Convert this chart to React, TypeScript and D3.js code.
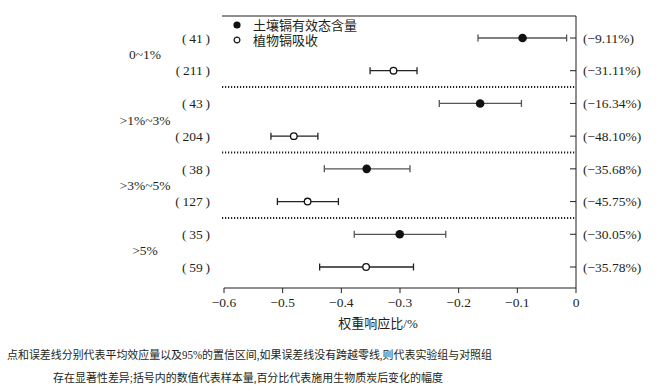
import * as d3 from "d3";

const groups = ["0~1%", ">1%~3%", ">3%~5%", ">5%"];
const counts = ["41", "211", "43", "204", "38", "127", "35", "59"];
const means = [-0.0911, -0.3111, -0.1634, -0.481, -0.3568, -0.4575, -0.3005, -0.3578];
const lows = [-0.167, -0.351, -0.233, -0.52, -0.429, -0.509, -0.378, -0.437];
const highs = [-0.016, -0.271, -0.093, -0.44, -0.283, -0.405, -0.222, -0.277];
const changes = ["-9.11%", "-31.11%", "-16.34%", "-48.10%", "-35.68%", "-45.75%", "-30.05%", "-35.78%"];
const seriesNames = ["土壤镉有效态含量", "植物镉吸收"];
const xTicks = [-0.6, -0.5, -0.4, -0.3, -0.2, -0.1, 0];
const captionLines = [
  "点和误差线分别代表平均效应量以及95%的置信区间,如果误差线没有跨越零线,则代表实验组与对照组",
  "存在显著性差异;括号内的数值代表样本量,百分比代表施用生物质炭后变化的幅度",
];

const W = 663;
const H = 392;
const FONT = "'Liberation Serif', 'Noto Sans CJK SC', serif";
const INK = "#231f20";

export default function App() {
  const x = d3.scaleLinear().domain([-0.6, 0]).range([224, 576]);
  const rows = d3.range(counts.length);
  const y = d3.scalePoint<number>().domain(rows).range([38, 267]);
  const top = 16;
  const bottom = 288;
  const step = y.step();
  const fmt = (v: number) => (v === 0 ? "0" : d3.format(".1f")(v));

  return (
    <div style={{ position: "absolute", left: 0, top: 0 }}>
      <svg width={W} height={H} style={{ display: "block", fontFamily: FONT }}>
        {/* frame: top, right, bottom */}
        <line x1={222} x2={x(0)} y1={top} y2={top} stroke={INK} strokeWidth={1} />
        <line x1={x(0)} x2={x(0)} y1={top} y2={bottom} stroke={INK} strokeWidth={1} />
        <line x1={x(-0.6)} x2={x(0)} y1={bottom} y2={bottom} stroke={INK} strokeWidth={1} />

        {/* x axis */}
        {xTicks.map((t) => (
          <g key={t}>
            <line x1={x(t)} x2={x(t)} y1={bottom} y2={bottom + 5} stroke={INK} />
            <text x={x(t)} y={bottom + 19} textAnchor="middle" fontSize={13.5} fill={INK}>
              {fmt(t)}
            </text>
          </g>
        ))}
        <text x={x(-0.3) - 22} y={328} textAnchor="middle" fontSize={13} fill={INK}>
          权重响应比/%
        </text>

        {/* group separators */}
        {[1, 3, 5].map((i) => (
          <line
            key={i}
            x1={222}
            x2={x(0)}
            y1={y(i)! + step / 2}
            y2={y(i)! + step / 2}
            stroke={INK}
            strokeWidth={2}
            strokeDasharray="1.2 1.8"
          />
        ))}

        {/* group labels */}
        {groups.map((g, i) => (
          <text
            key={g}
            x={145}
            y={(y(i * 2)! + y(i * 2 + 1)!) / 2}
            dy="0.35em"
            textAnchor="middle"
            fontSize={13.5}
            fill={INK}
          >
            {g}
          </text>
        ))}

        {/* rows */}
        {rows.map((i) => {
          const cy = y(i)!;
          const filled = i % 2 === 0;
          const barColor = filled ? "#555" : "#222";
          return (
            <g key={i}>
              <text x={210} y={cy} dy="0.35em" textAnchor="end" fontSize={13.5} fill={INK}>
                {`(\u2009${counts[i]}\u2009)`}
              </text>
              <line x1={x(0) - 6} x2={x(0)} y1={cy} y2={cy} stroke={INK} />
              <text x={583} y={cy} dy="0.35em" fontSize={13.5} fill={INK}>
                ({changes[i].replace("-", "−")})
              </text>
              <line x1={x(lows[i])} x2={x(highs[i])} y1={cy} y2={cy} stroke={barColor} strokeWidth={1.3} />
              <line x1={x(lows[i])} x2={x(lows[i])} y1={cy - 3.5} y2={cy + 3.5} stroke={barColor} strokeWidth={1.3} />
              <line x1={x(highs[i])} x2={x(highs[i])} y1={cy - 3.5} y2={cy + 3.5} stroke={barColor} strokeWidth={1.3} />
              {filled ? (
                <circle cx={x(means[i])} cy={cy} r={4.3} fill="#111" />
              ) : (
                <circle cx={x(means[i])} cy={cy} r={3.3} fill="#fff" stroke="#111" strokeWidth={1.3} />
              )}
            </g>
          );
        })}

        {/* legend */}
        {seriesNames.map((s, i) => (
          <g key={s} transform={`translate(237, ${25 + i * 15})`}>
            {i === 0 ? (
              <circle r={3.6} fill="#111" />
            ) : (
              <circle r={2.9} fill="#fff" stroke="#111" strokeWidth={1.2} />
            )}
            <text x={16} dy="0.35em" fontSize={13} fill={INK}>
              {s}
            </text>
          </g>
        ))}

        {/* caption */}
        <text
          x={7}
          y={355}
          dy="0.35em"
          fontSize={11.5}
          fill={INK}
          textLength={485}
          lengthAdjust="spacingAndGlyphs"
        >
          {captionLines[0]}
        </text>
        <text
          x={53}
          y={378}
          dy="0.35em"
          fontSize={11.5}
          fill={INK}
          textLength={390}
          lengthAdjust="spacingAndGlyphs"
        >
          {captionLines[1]}
        </text>
      </svg>
    </div>
  );
}
